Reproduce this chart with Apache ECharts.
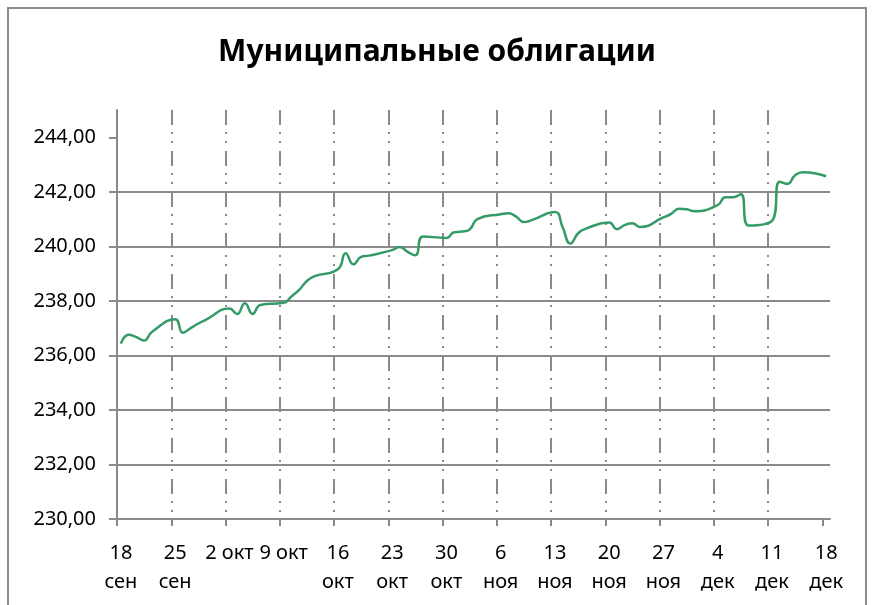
<!DOCTYPE html>
<html>
<head>
<meta charset="utf-8">
<script src="https://cdn.jsdelivr.net/npm/echarts@6/dist/echarts.min.js"></script>
<style>
    html, body { margin: 0; padding: 0; background: #fff; }
    #chart_line { width: 874px; height: 605px; }
</style>
</head>
<body>
<div id="chart_line"></div>
<script>
// Chart data
// ------------------------------

// Trading days, counted from 18 сен
var dayOffsets = [0, 1, 2, 3, 4, 7, 8, 9, 10, 11, 14, 15, 16, 17, 18, 21, 22, 23, 24, 25,
    28, 29, 30, 31, 32, 35, 36, 37, 38, 39, 42, 43, 44, 45, 46, 49, 50, 51, 52, 53,
    56, 57, 58, 59, 60, 63, 64, 65, 66, 67, 70, 71, 72, 73, 74, 77, 78, 79, 80, 81,
    84, 85, 86, 87, 88, 91];

var indexValues = [236.43, 236.76, 236.67, 236.55, 236.86, 237.33, 236.83, 237.00, 237.17, 237.31,
    237.72, 237.52, 237.91, 237.52, 237.85, 237.93, 238.16, 238.40, 238.73, 238.91,
    239.16, 239.75, 239.34, 239.61, 239.66, 239.86, 239.98, 239.80, 239.67, 240.36,
    240.31, 240.52, 240.54, 240.62, 241.00, 241.18, 241.21, 241.09, 240.89, 240.96,
    241.26, 240.70, 240.10, 240.48, 240.65, 240.87, 240.63, 240.78, 240.85, 240.71,
    241.06, 241.19, 241.38, 241.36, 241.29, 241.51, 241.80, 241.80, 241.91, 240.76,
    240.93, 242.37, 242.29, 242.61, 242.72, 242.57];

// Weekly tick labels
var weekLabels = ['18\nсен', '25\nсен', '2 окт', '9 окт', '16\nокт', '23\nокт', '30\nокт',
    '6\nноя', '13\nноя', '20\nноя', '27\nноя', '4\nдек', '11\nдек', '18\nдек'];

var yTicks = [230, 232, 234, 236, 238, 240, 242, 244];


// Setup chart
// ------------------------------

var gridColor = '#8a8a8a';
var fontName = '"Noto Sans", sans-serif';

// Points sit in the middle of their day, like a date axis in Excel
var lineData = dayOffsets.map(function(d, i) {
    return [d + 0.5, indexValues[i]];
});
var weekTicks = weekLabels.map(function(l, i) { return i * 7; });
var labelPos = weekLabels.map(function(l, i) { return i * 7 + 0.5; });

var chart = echarts.init(document.getElementById('chart_line'));

chart.setOption({
    animation: false,
    textStyle: {
        fontFamily: fontName
    },

    // Title
    title: {
        text: 'Муниципальные облигации',
        left: 'center',
        top: 37,
        padding: 0,
        textStyle: {
            fontFamily: fontName,
            fontSize: 30,
            fontWeight: 'bold',
            color: '#000'
        }
    },

    // Outer frame
    graphic: [{
        type: 'rect',
        shape: { x: 8, y: 8, width: 858, height: 640 },
        style: { fill: 'none', stroke: '#8c8c8c', lineWidth: 2 },
        silent: true
    }],

    grid: {
        left: 117,
        right: 44,
        top: 110,
        bottom: 86,
        containLabel: false,
        outerBoundsMode: 'none'
    },

    // Horizontal axis
    xAxis: {
        type: 'value',
        min: 0,
        max: 92,
        interval: 7,
        axisLine: {
            lineStyle: { color: gridColor, width: 2 }
        },
        axisTick: {
            show: true,
            length: 7,
            customValues: weekTicks,
            lineStyle: { color: gridColor, width: 2 }
        },
        axisLabel: {
            customValues: labelPos,
            margin: 20,
            fontSize: 20,
            lineHeight: 29,
            color: '#000',
            formatter: function(v) {
                return weekLabels[Math.floor(v / 7)] || '';
            }
        },
        splitLine: {
            show: true,
            showMinLine: false,
            showMaxLine: false,
            lineStyle: {
                color: gridColor,
                width: 2,
                type: [15, 7, 2, 7, 2, 8]
            }
        }
    },

    // Vertical axis
    yAxis: {
        type: 'value',
        min: 230,
        max: 245,
        interval: 2,
        axisLine: {
            show: true,
            lineStyle: { color: gridColor, width: 2 }
        },
        axisTick: {
            show: true,
            length: 8,
            customValues: yTicks,
            lineStyle: { color: gridColor, width: 2 }
        },
        axisLabel: {
            customValues: yTicks,
            margin: 21,
            fontSize: 20,
            color: '#000',
            formatter: function(v) {
                return v.toFixed(2).replace('.', ',');
            }
        },
        splitLine: {
            show: true,
            showMaxLine: false,
            lineStyle: { color: gridColor, width: 2 }
        }
    },

    series: [{
        name: 'Муниципальные облигации',
        type: 'line',
        data: lineData,
        smooth: 0.5,
        showSymbol: false,
        lineStyle: {
            color: '#349b67',
            width: 2.5
        }
    }]
});
</script>
</body>
</html>
